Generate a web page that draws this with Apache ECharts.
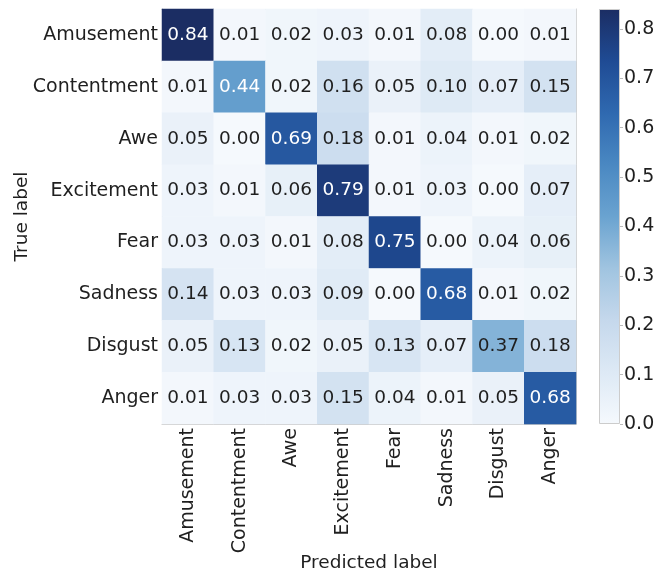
<!DOCTYPE html>
<html>
<head>
<meta charset="utf-8">
<script src="https://cdn.jsdelivr.net/npm/echarts@6/dist/echarts.min.js"></script>
<style>
html,body{margin:0;padding:0;background:#fff;}
#chart{width:665px;height:571px;}
</style>
</head>
<body>
<div id="chart"></div>
<script>
var categories = ['Amusement','Contentment','Awe','Excitement','Fear','Sadness','Disgust','Anger'];
var rowAmusement   = [0.84,0.01,0.02,0.03,0.01,0.08,0.00,0.01];
var rowContentment = [0.01,0.44,0.02,0.16,0.05,0.10,0.07,0.15];
var rowAwe         = [0.05,0.00,0.69,0.18,0.01,0.04,0.01,0.02];
var rowExcitement  = [0.03,0.01,0.06,0.79,0.01,0.03,0.00,0.07];
var rowFear        = [0.03,0.03,0.01,0.08,0.75,0.00,0.04,0.06];
var rowSadness     = [0.14,0.03,0.03,0.09,0.00,0.68,0.01,0.02];
var rowDisgust     = [0.05,0.13,0.02,0.05,0.13,0.07,0.37,0.18];
var rowAnger       = [0.01,0.03,0.03,0.15,0.04,0.01,0.05,0.68];
var colorbarTicks  = [0.0,0.1,0.2,0.3,0.4,0.5,0.6,0.7,0.8];
var colorMax = 0.84;

var rows = [rowAmusement,rowContentment,rowAwe,rowExcitement,rowFear,rowSadness,rowDisgust,rowAnger];
var blues = ['#f5f9fd','#dde9f5','#c5d8ec','#a0c4e0','#6aa3d0','#4a88c2','#2f69b0','#1f4b94','#1b2d63'];
var FONT = 'DejaVu Sans';
var TXT = '#1f1f1f';

var data = [];
rows.forEach(function(r, yi){
  r.forEach(function(v, xi){
    data.push({value:[xi, yi, v], label:{color: v > colorMax/2 ? '#ffffff' : TXT}});
  });
});

var gradStops = blues.map(function(c, i){ return {offset: i/(blues.length-1), color: c}; });

var chart = echarts.init(document.getElementById('chart'), null, {renderer:'canvas'});
chart.setOption({
  animation:false,
  backgroundColor:'#ffffff',
  textStyle:{fontFamily:FONT},
  grid:[
    {left:162, top:9, width:414, height:415, containLabel:false, outerBoundsMode:'none'},
    {left:599, top:9, width:21, height:415, containLabel:false, outerBoundsMode:'none'}
  ],
  xAxis:[
    {type:'category', gridIndex:0, data:categories, position:'bottom',
     name:'Predicted label', nameLocation:'middle', nameGap:130, nameMoveOverlap:false,
     nameTextStyle:{fontSize:18.5, color:TXT, fontFamily:FONT},
     axisLine:{show:true, lineStyle:{color:'#cccccc', width:1}},
     axisTick:{show:false}, splitLine:{show:false},
     axisLabel:{rotate:90, fontSize:19, color:TXT, fontFamily:FONT, margin:4}},
    {type:'category', gridIndex:0, data:categories, position:'top',
     axisLine:{show:true, lineStyle:{color:'#cccccc', width:1}},
     axisTick:{show:false}, axisLabel:{show:false}, splitLine:{show:false}},
    {type:'category', gridIndex:1, data:['c'], boundaryGap:true,
     axisLine:{show:false}, axisTick:{show:false}, axisLabel:{show:false}, splitLine:{show:false}}
  ],
  yAxis:[
    {type:'category', gridIndex:0, data:categories, inverse:true, position:'left',
     name:'True label', nameLocation:'middle', nameGap:130, nameRotate:90, nameMoveOverlap:false,
     nameTextStyle:{fontSize:18.5, color:TXT, fontFamily:FONT},
     axisLine:{show:true, lineStyle:{color:'#cccccc', width:1}},
     axisTick:{show:false}, splitLine:{show:false},
     axisLabel:{fontSize:19, color:TXT, fontFamily:FONT, margin:4}},
    {type:'category', gridIndex:0, data:categories, inverse:true, position:'right',
     axisLine:{show:true, lineStyle:{color:'#cccccc', width:1}},
     axisTick:{show:false}, axisLabel:{show:false}, splitLine:{show:false}},
    {type:'value', gridIndex:1, min:0, max:colorMax, interval:0.1, position:'right',
     axisLine:{show:false},
     axisTick:{show:true, length:3, lineStyle:{color:'#bbbbbb'}},
     splitLine:{show:false},
     axisLabel:{fontSize:19, color:TXT, fontFamily:FONT, margin:4, showMaxLabel:false,
       formatter:function(v){ return colorbarTicks.indexOf(Math.round(v*10)/10) >= 0 ? v.toFixed(1) : ''; }}}
  ],
  visualMap:{show:false, min:0, max:colorMax, seriesIndex:0, inRange:{color:blues}},
  series:[
    {type:'heatmap', xAxisIndex:0, yAxisIndex:0, data:data,
     label:{show:true, fontSize:18.5, fontFamily:FONT,
       formatter:function(p){ return p.value[2].toFixed(2); }},
     itemStyle:{borderWidth:0},
     emphasis:{disabled:true}},
    {type:'bar', xAxisIndex:2, yAxisIndex:2, data:[colorMax], barWidth:'100%',
     itemStyle:{color:new echarts.graphic.LinearGradient(0,1,0,0,gradStops),
       borderColor:'#cccccc', borderWidth:1},
     emphasis:{disabled:true}}
  ]
});
</script>
</body>
</html>
